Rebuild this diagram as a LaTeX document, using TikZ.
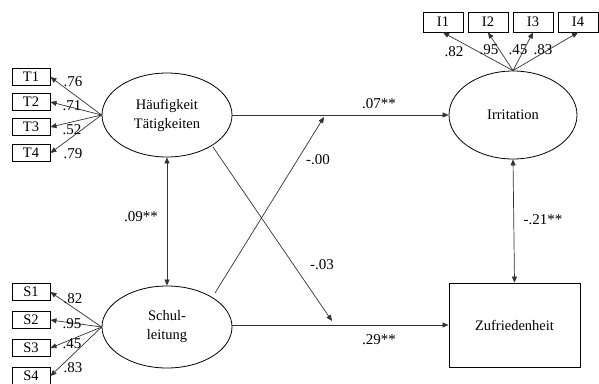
\documentclass[tikz,border=0pt]{standalone}
\usepackage{fontspec}
\setmainfont{Liberation Serif}
\usetikzlibrary{shapes.geometric,arrows.meta}
\begin{document}
\begin{tikzpicture}[x=1pt,y=-1pt,
  every node/.style={font=\fontsize{14.5}{19}\selectfont},
  ind/.style={draw,line width=0.9pt,minimum width=38pt,minimum height=17pt,inner sep=0pt},
  lat/.style={draw,line width=0.8pt,ellipse,inner sep=0pt,align=center},
  conn/.style={draw=black!80,line width=0.7pt,-{Triangle[length=6pt,width=5pt]}},
  dconn/.style={draw=black!80,line width=0.7pt,{Triangle[length=6pt,width=5pt]}-{Triangle[length=6pt,width=5pt]}},
  lab/.style={inner sep=0pt,font=\fontsize{15}{17}\selectfont}]
\useasboundingbox (0,0) rectangle (599,383);
% latent variables
\node[lat,minimum width=130pt,minimum height=84pt] (H) at (167,115) {Häufigkeit\\Tätigkeiten};
\node[lat,minimum width=130pt,minimum height=82pt] (S) at (167,327) {Schul-\\leitung};
\node[lat,minimum width=128pt,minimum height=88pt] (I) at (513,115) {Irritation};
\node[draw,line width=0.8pt,minimum width=131pt,minimum height=84pt,inner sep=0pt] (Z) at (514.5,325) {Zufriedenheit};
% indicators T
\node[ind] (T1) at (31,77) {T1};
\node[ind] (T2) at (31,102) {T2};
\node[ind] (T3) at (31,127) {T3};
\node[ind] (T4) at (31,153) {T4};
% indicators S
\node[ind] (S1) at (31,292) {S1};
\node[ind] (S2) at (31,320) {S2};
\node[ind] (S3) at (31,348) {S3};
\node[ind] (S4) at (31,376) {S4};
% indicators I
\node[ind,minimum width=40pt,minimum height=20pt] (I1) at (443,22) {I1};
\node[ind,minimum width=40pt,minimum height=20pt] (I2) at (488,22) {I2};
\node[ind,minimum width=40pt,minimum height=20pt] (I3) at (533,22) {I3};
\node[ind,minimum width=40pt,minimum height=20pt] (I4) at (578,22) {I4};
% loadings
\foreach \t in {T1,T2,T3,T4} \draw[conn] (H.west) -- (\t.east);
\foreach \t in {S1,S2,S3,S4} \draw[conn] (S.west) -- (\t.east);
\foreach \t in {I1,I2,I3,I4} \draw[conn] (I.north) -- (\t.south);
\node[lab] (lt1) at (73,82) {.76};
\node[lab] (lt2) at (72,106) {.71};
\node[lab] (lt3) at (72,130) {.52};
\node[lab] (lt4) at (73,154) {.79};
\node[lab] (ls1) at (73,299) {.82};
\node[lab] (ls2) at (72,324) {.95};
\node[lab] (ls3) at (72,344) {.45};
\node[lab] (ls4) at (73,368) {.83};
\node[lab] (li1) at (454,52) {.82};
\node[lab] (li2) at (489,50) {.95};
\node[lab] (li3) at (518,50) {.45};
\node[lab] (li4) at (543,50) {.83};
% structural paths
\coordinate (hs) at (213,147);
\coordinate (he) at (332,321);
\coordinate (ss) at (215,293);
\coordinate (se) at (324,117);
\draw[conn] (H.east) -- (I.west);
\draw[conn] (S.east |- Z.west) -- (Z.west);
\draw[conn] (hs) -- (he);
\draw[conn] (ss) -- (se);
\draw[dconn] (H.south) -- (S.north);
\draw[dconn] (I.south) -- (Z.north);
\node[lab] (l07) at (379,104) {.07**};
\node[lab] (l29) at (379,340) {.29**};
\node[lab] (l00) at (318,160) {-.00};
\node[lab] (l03) at (322,265) {-.03};
\node[lab] (l09) at (141,217) {.09**};
\node[lab] (l21) at (543,220) {-.21**};
\end{tikzpicture}
\end{document}
